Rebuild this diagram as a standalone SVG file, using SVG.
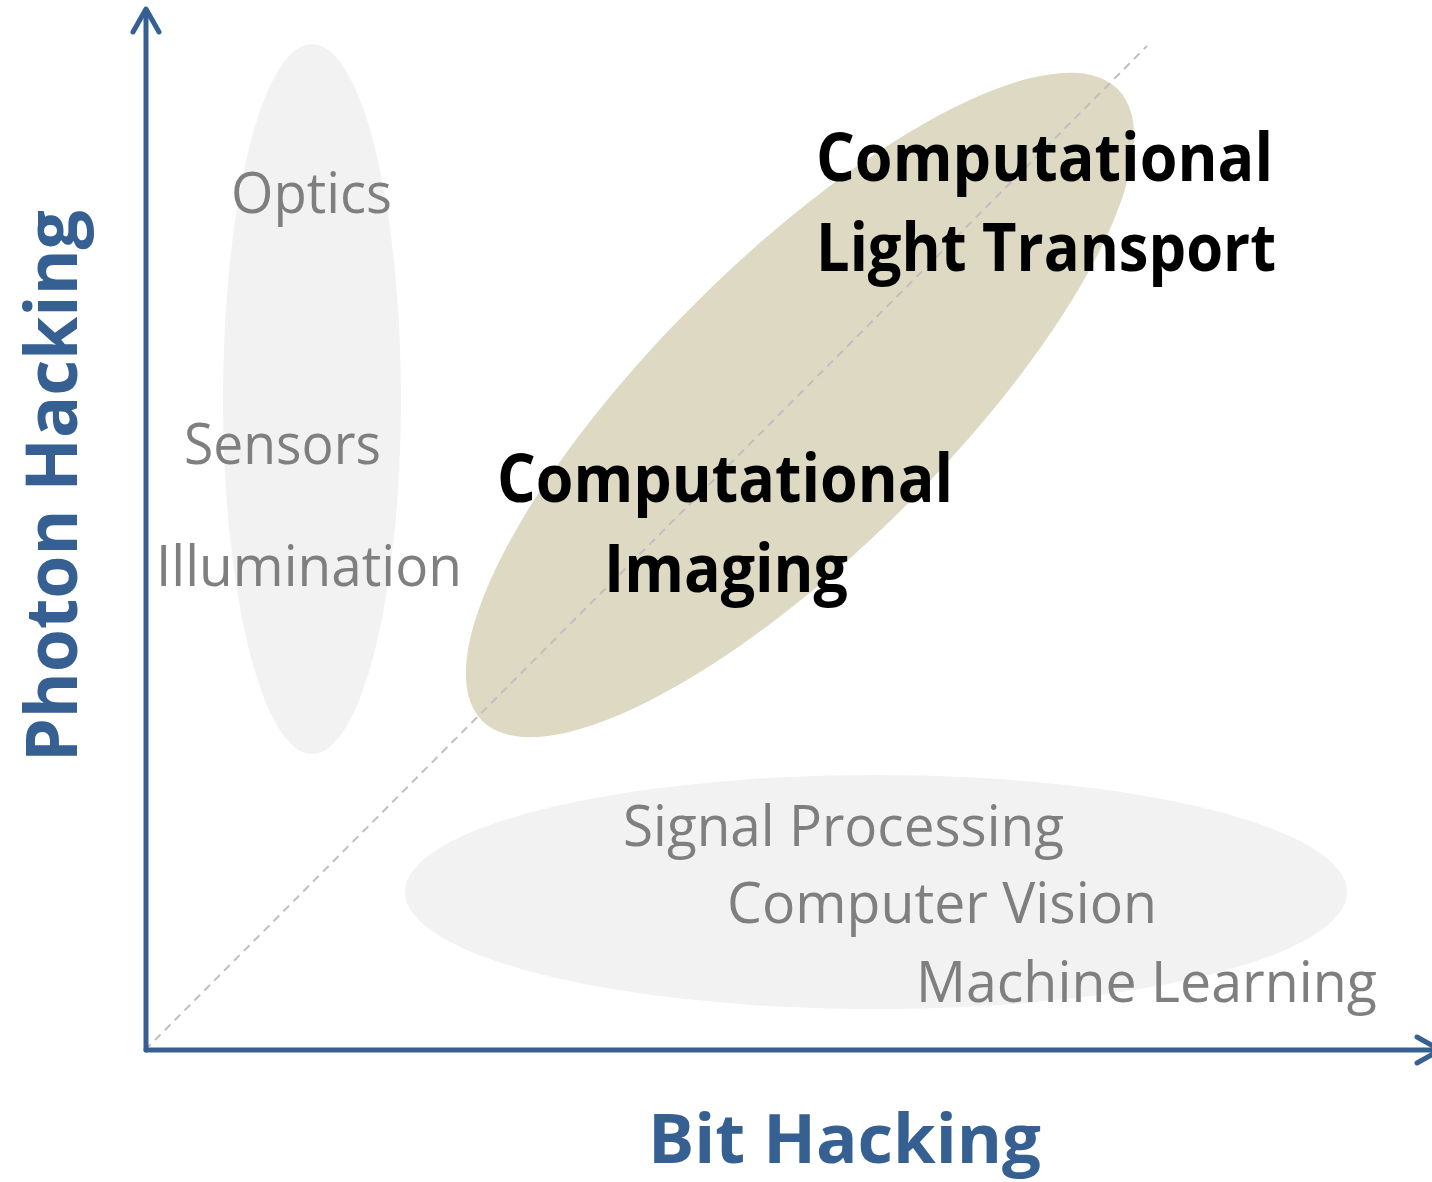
<svg xmlns="http://www.w3.org/2000/svg" width="1432" height="1182" viewBox="0 0 1432 1182">
<style>
.grey{font-family:"Open Sans","Noto Sans","Liberation Sans",sans-serif;font-size:56px;fill:#7f7f7f}
.bold{font-family:"Open Sans","Noto Sans","Liberation Sans",sans-serif;font-size:66px;font-weight:bold;fill:#000}
.axislabel{font-family:"Open Sans","Noto Sans","Liberation Sans",sans-serif;font-weight:bold;fill:#376092}
.axis{stroke:#376092;stroke-width:5;fill:none;stroke-linecap:round;stroke-linejoin:round}
.diag{stroke:#bfbfbf;stroke-width:2;stroke-dasharray:8 6;fill:none}
</style>
<rect width="1432" height="1182" fill="#ffffff"/>
<g id="optics-group">
<ellipse cx="312" cy="399" rx="89" ry="355" fill="#f2f2f2"/>
<text class="grey" x="231" y="213" textLength="161" lengthAdjust="spacingAndGlyphs">Optics</text>
<text class="grey" x="184" y="464" textLength="197" lengthAdjust="spacingAndGlyphs">Sensors</text>
<text class="grey" x="156" y="586" textLength="306" lengthAdjust="spacingAndGlyphs">Illumination</text>
</g>
<g id="bits-group">
<ellipse cx="876" cy="892" rx="471" ry="117" fill="#f2f2f2"/>
<text class="grey" x="623" y="846" textLength="441" lengthAdjust="spacingAndGlyphs">Signal Processing</text>
<text class="grey" x="727" y="923" textLength="430" lengthAdjust="spacingAndGlyphs">Computer Vision</text>
<text class="grey" x="916" y="1002" textLength="461" lengthAdjust="spacingAndGlyphs">Machine Learning</text>
</g>
<g id="computational-group">
<ellipse cx="0" cy="0" rx="448" ry="146" fill="#ddd9c3" transform="translate(800 405) rotate(-44.8)"/>
</g>
<g id="connectors">
<line class="diag" x1="145" y1="1050" x2="1147" y2="46"/>
<path class="axis" d="M146,1050 L146,10"/>
<path class="axis" d="M133,32 L146,9 L159,32"/>
<path class="axis" d="M146,1050 L1440,1050"/>
<path class="axis" d="M1417,1037 L1440,1050 L1417,1063"/>
</g>
<g id="clt-label">
<text class="bold" x="816" y="181" textLength="457" lengthAdjust="spacingAndGlyphs">Computational</text>
<text class="bold" x="816" y="271" textLength="460" lengthAdjust="spacingAndGlyphs">Light Transport</text>
</g>
<g id="ci-label">
<text class="bold" x="497" y="502" textLength="456" lengthAdjust="spacingAndGlyphs">Computational</text>
<text class="bold" x="604" y="592" textLength="244" lengthAdjust="spacingAndGlyphs">Imaging</text>
</g>
<g id="x-axis-label">
<text class="axislabel" x="648" y="1163" font-size="68" textLength="393" lengthAdjust="spacingAndGlyphs">Bit Hacking</text>
</g>
<g id="y-axis-label">
<text class="axislabel" x="0" y="0" font-size="72" textLength="552" lengthAdjust="spacingAndGlyphs" transform="translate(77 762) rotate(-90)">Photon Hacking</text>
</g>
</svg>
